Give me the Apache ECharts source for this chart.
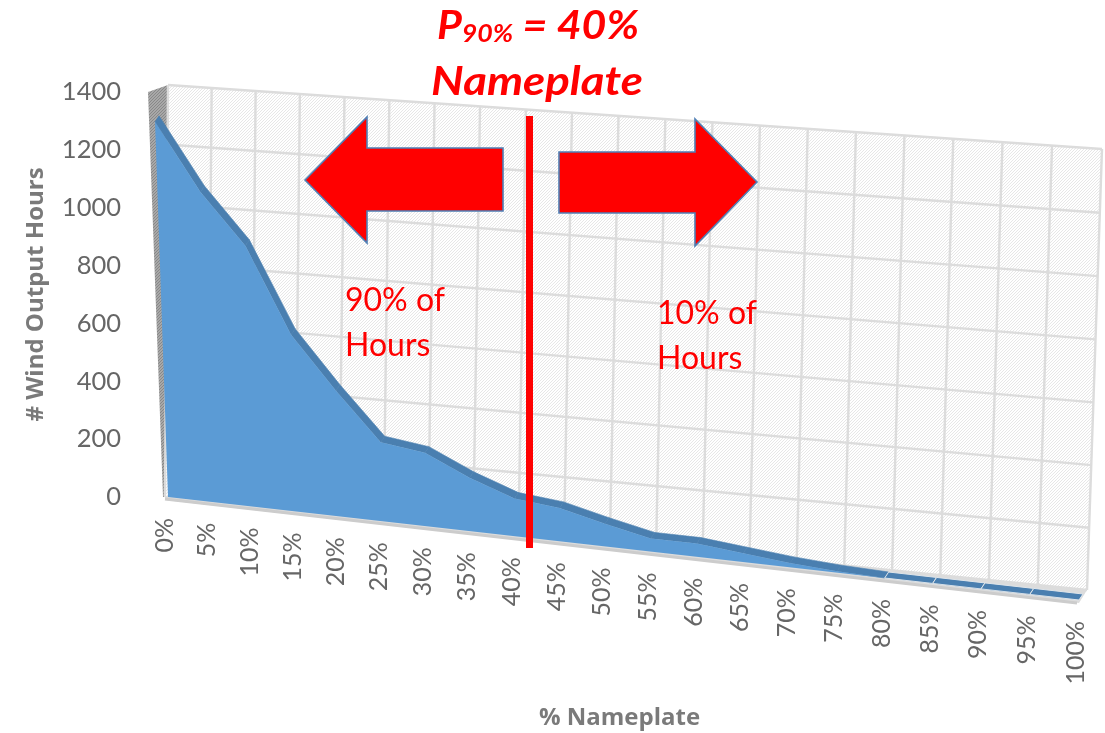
<!DOCTYPE html>
<html><head><meta charset="utf-8">
<style>html,body{margin:0;padding:0;background:#fff}#c{width:1105px;height:733px;filter:blur(0.7px)}</style>
<script src="https://cdn.jsdelivr.net/npm/echarts@6/dist/echarts.min.js"></script>
</head><body><div id="c"></div>
<script>
const categories = ['0%','5%','10%','15%','20%','25%','30%','35%','40%','45%','50%','55%','60%','65%','70%','75%','80%','85%','90%','95%','100%'];
const hours = [1300,1075,905,615,437,275,255,185,130,115,78,45,45,30,15,5,0,0,0,0,0];
const yTicks = [0,200,400,600,800,1000,1200,1400];
const xAxisName = '% Nameplate';
const yAxisName = '# Wind Output Hours';

const FONT = 'Lato, "Open Sans", sans-serif';
const GRID = {left:168, top:92, width:911, height:405, outerBoundsMode:'none'};

// projective map from the flat grid rectangle onto a quad (tl,tr,br,bl)
function homography(q){
  const [[x0,y0],[x1,y1],[x2,y2],[x3,y3]] = q;
  const dx1=x1-x2, dx2=x3-x2, sx=x0-x1+x2-x3, dy1=y1-y2, dy2=y3-y2, sy=y0-y1+y2-y3;
  const d=dx1*dy2-dx2*dy1, g=(sx*dy2-dx2*sy)/d, h=(dx1*sy-sx*dy1)/d;
  const a=x1-x0+g*x1, b=x3-x0+h*x3, c=x0, e=y1-y0+g*y1, f=y3-y0+h*y3;
  return p=>{
    const u=(p[0]-GRID.left)/GRID.width, v=(p[1]-GRID.top)/GRID.height, w=g*u+h*v+1;
    return [(a*u+b*v+c)/w,(e*u+f*v+y0)/w];
  };
}
const front = homography([[154,92],[1095,163],[1079,600],[168,497]]);
const wall  = homography([[168,85],[1102,149],[1087,590],[165,497]]);
const RIDGE = [4,-6];
const ridge = p=>{const q=front(p);return [q[0]+RIDGE[0],q[1]+RIDGE[1]];};

// diagonal hatch used on the chart walls
function hatch(bg,fg){
  const s=3,c=document.createElement('canvas');c.width=c.height=s;
  const x=c.getContext('2d');x.fillStyle=bg;x.fillRect(0,0,s,s);x.strokeStyle=fg;x.lineWidth=0.9;
  x.beginPath();x.moveTo(-1,s+1);x.lineTo(s+1,-1);x.moveTo(-1,1);x.lineTo(1,-1);x.moveTo(s-1,s+1);x.lineTo(s+1,s-1);x.stroke();
  return {image:c,repeat:'repeat'};
}
const wallFill = hatch('#ffffff','#e4e4e4');
const sideFill = hatch('#a8a8a8','#858585');
const poly=(points,style)=>({type:'polygon',shape:{points},style});
const line=(a,b,stroke,lineWidth)=>({type:'line',shape:{x1:a[0],y1:a[1],x2:b[0],y2:b[1]},style:{stroke,lineWidth}});

function renderWalls(params,api){
  const n=categories.length-1, top=yTicks[yTicks.length-1];
  const c=(i,v)=>api.coord([i,v]);
  const kids=[];
  const tl=wall(c(0,top)),tr=wall(c(n,top)),br=wall(c(n,0)),bl=wall(c(0,0));
  const ftl=front(c(0,top)), fbl=front(c(0,0)), fbr=front(c(n,0));
  kids.push(poly([tl,tr,br,bl],{fill:wallFill}));
  kids.push(poly([bl,br,[fbr[0],fbr[1]+3],[fbl[0]-3,fbl[1]+3]],{fill:'#dcdcdc'}));
  kids.push(poly([[ftl[0]-6,ftl[1]],tl,bl,[fbl[0]-5,fbl[1]]],{fill:sideFill}));
  for(let i=0;i<=n;i++) kids.push(line(wall(c(i,0)),wall(c(i,top)),'#dcdcdc',2.4));
  yTicks.forEach(v=>kids.push(line(wall(c(0,v)),wall(c(n,v)),'#dcdcdc',2.4)));
  kids.push(line([fbl[0]-3,fbl[1]+2],[fbr[0]-2,fbr[1]+3],'#cccccc',3));
  return {type:'group',children:kids};
}
function renderRidge(params,api){
  const i=params.dataIndex;
  if(i>=hours.length-1) return null;
  const t0=api.coord([i,hours[i]]),t1=api.coord([i+1,hours[i+1]]);
  const flat=hours[i]===0&&hours[i+1]===0;
  return poly([ridge(t0),ridge(t1),front(t1),front(t0)],{fill:'#4a7fb0',stroke:flat?'#dfe5ea':'#4a7fb0',lineWidth:flat?1:0.6});
}
function renderFill(params,api){
  const n=hours.length-1;
  const pts=hours.map((v,i)=>front(api.coord([i,v])));
  pts.push(front(api.coord([n,0])),front(api.coord([0,0])));
  return poly(pts,{fill:'#5b9bd5'});
}
function renderXLabels(params,api){
  const p=front(api.coord([params.dataIndex,0]));
  return {type:'text',x:p[0]-3,y:p[1]+21,rotation:Math.PI/2,
    style:{text:categories[params.dataIndex],font:'25px '+FONT,fill:'#666666',align:'right',verticalAlign:'middle'}};
}
const red='#ff0000', arrowEdge='#4f7fb5';
const graphic=[
 {type:'polygon',shape:{points:[[305,180],[367,117],[367,148],[503,148],[503,211],[367,211],[367,243]]},style:{fill:red,stroke:arrowEdge,lineWidth:1.6},z:20},
 {type:'polygon',shape:{points:[[559,152],[695,152],[695,119],[757,182],[695,246],[695,213],[559,213]]},style:{fill:red,stroke:arrowEdge,lineWidth:1.6},z:20},
 {type:'rect',shape:{x:526,y:116,width:7,height:432},style:{fill:red},z:20},
 {type:'text',x:538,y:26,z:21,scaleX:1.07,style:{text:'{p|P}{s|90%}{p| = 40%}',align:'center',verticalAlign:'middle',
   rich:{p:{font:'italic bold 40px '+FONT,fill:red},s:{font:'italic bold 25px '+FONT,fill:red,verticalAlign:'bottom',padding:[8,0,0,0]}}}},
 {type:'text',x:537,y:82,z:21,scaleX:1.14,style:{text:'Nameplate',font:'italic bold 40px '+FONT,fill:red,align:'center',verticalAlign:'middle'}},
 {type:'text',x:345,y:301,z:21,style:{text:'90% of',font:'32px '+FONT,fill:red,verticalAlign:'middle'}},
 {type:'text',x:345,y:346,z:21,style:{text:'Hours',font:'32px '+FONT,fill:red,verticalAlign:'middle'}},
 {type:'text',x:657,y:314,z:21,style:{text:'10% of',font:'32px '+FONT,fill:red,verticalAlign:'middle'}},
 {type:'text',x:657,y:359,z:21,style:{text:'Hours',font:'32px '+FONT,fill:red,verticalAlign:'middle'}}
];
const chart=echarts.init(document.getElementById('c'),null,{renderer:'canvas'});
chart.setOption({
  animation:false,
  grid:GRID,
  xAxis:{type:'category',data:categories,boundaryGap:false,axisLine:{show:false},axisTick:{show:false},axisLabel:{show:false},splitLine:{show:false},
    name:xAxisName,nameLocation:'middle',nameGap:209,nameTextStyle:{fontFamily:'"Open Sans"',fontWeight:'bold',fontSize:24,color:'#7a7a7a',padding:[0,8,0,0]}},
  yAxis:{type:'value',min:0,max:1400,interval:200,axisLine:{show:false},axisTick:{show:false},splitLine:{show:false},
    axisLabel:{margin:47,fontFamily:FONT,fontSize:25.5,color:'#666666',padding:[7,0,0,0],formatter:v=>String(v)},
    name:yAxisName,nameLocation:'middle',nameGap:120,nameTextStyle:{fontFamily:'"Open Sans"',fontWeight:'bold',fontSize:24,color:'#7a7a7a'}},
  series:[
    {type:'custom',name:'walls',data:[0],renderItem:renderWalls,silent:true,z:1},
    {type:'custom',name:'Wind Output Hours ridge',data:hours.map((v,i)=>[i,v]),renderItem:renderRidge,encode:{x:0,y:1},z:2},
    {type:'custom',name:'Wind Output Hours',data:[[0,hours[0]]],renderItem:renderFill,encode:{x:0,y:1},z:3},
    {type:'custom',name:'x labels',data:categories.map((c,i)=>[i,0]),renderItem:renderXLabels,encode:{x:0,y:1},z:4}
  ],
  graphic
});
</script></body></html>
